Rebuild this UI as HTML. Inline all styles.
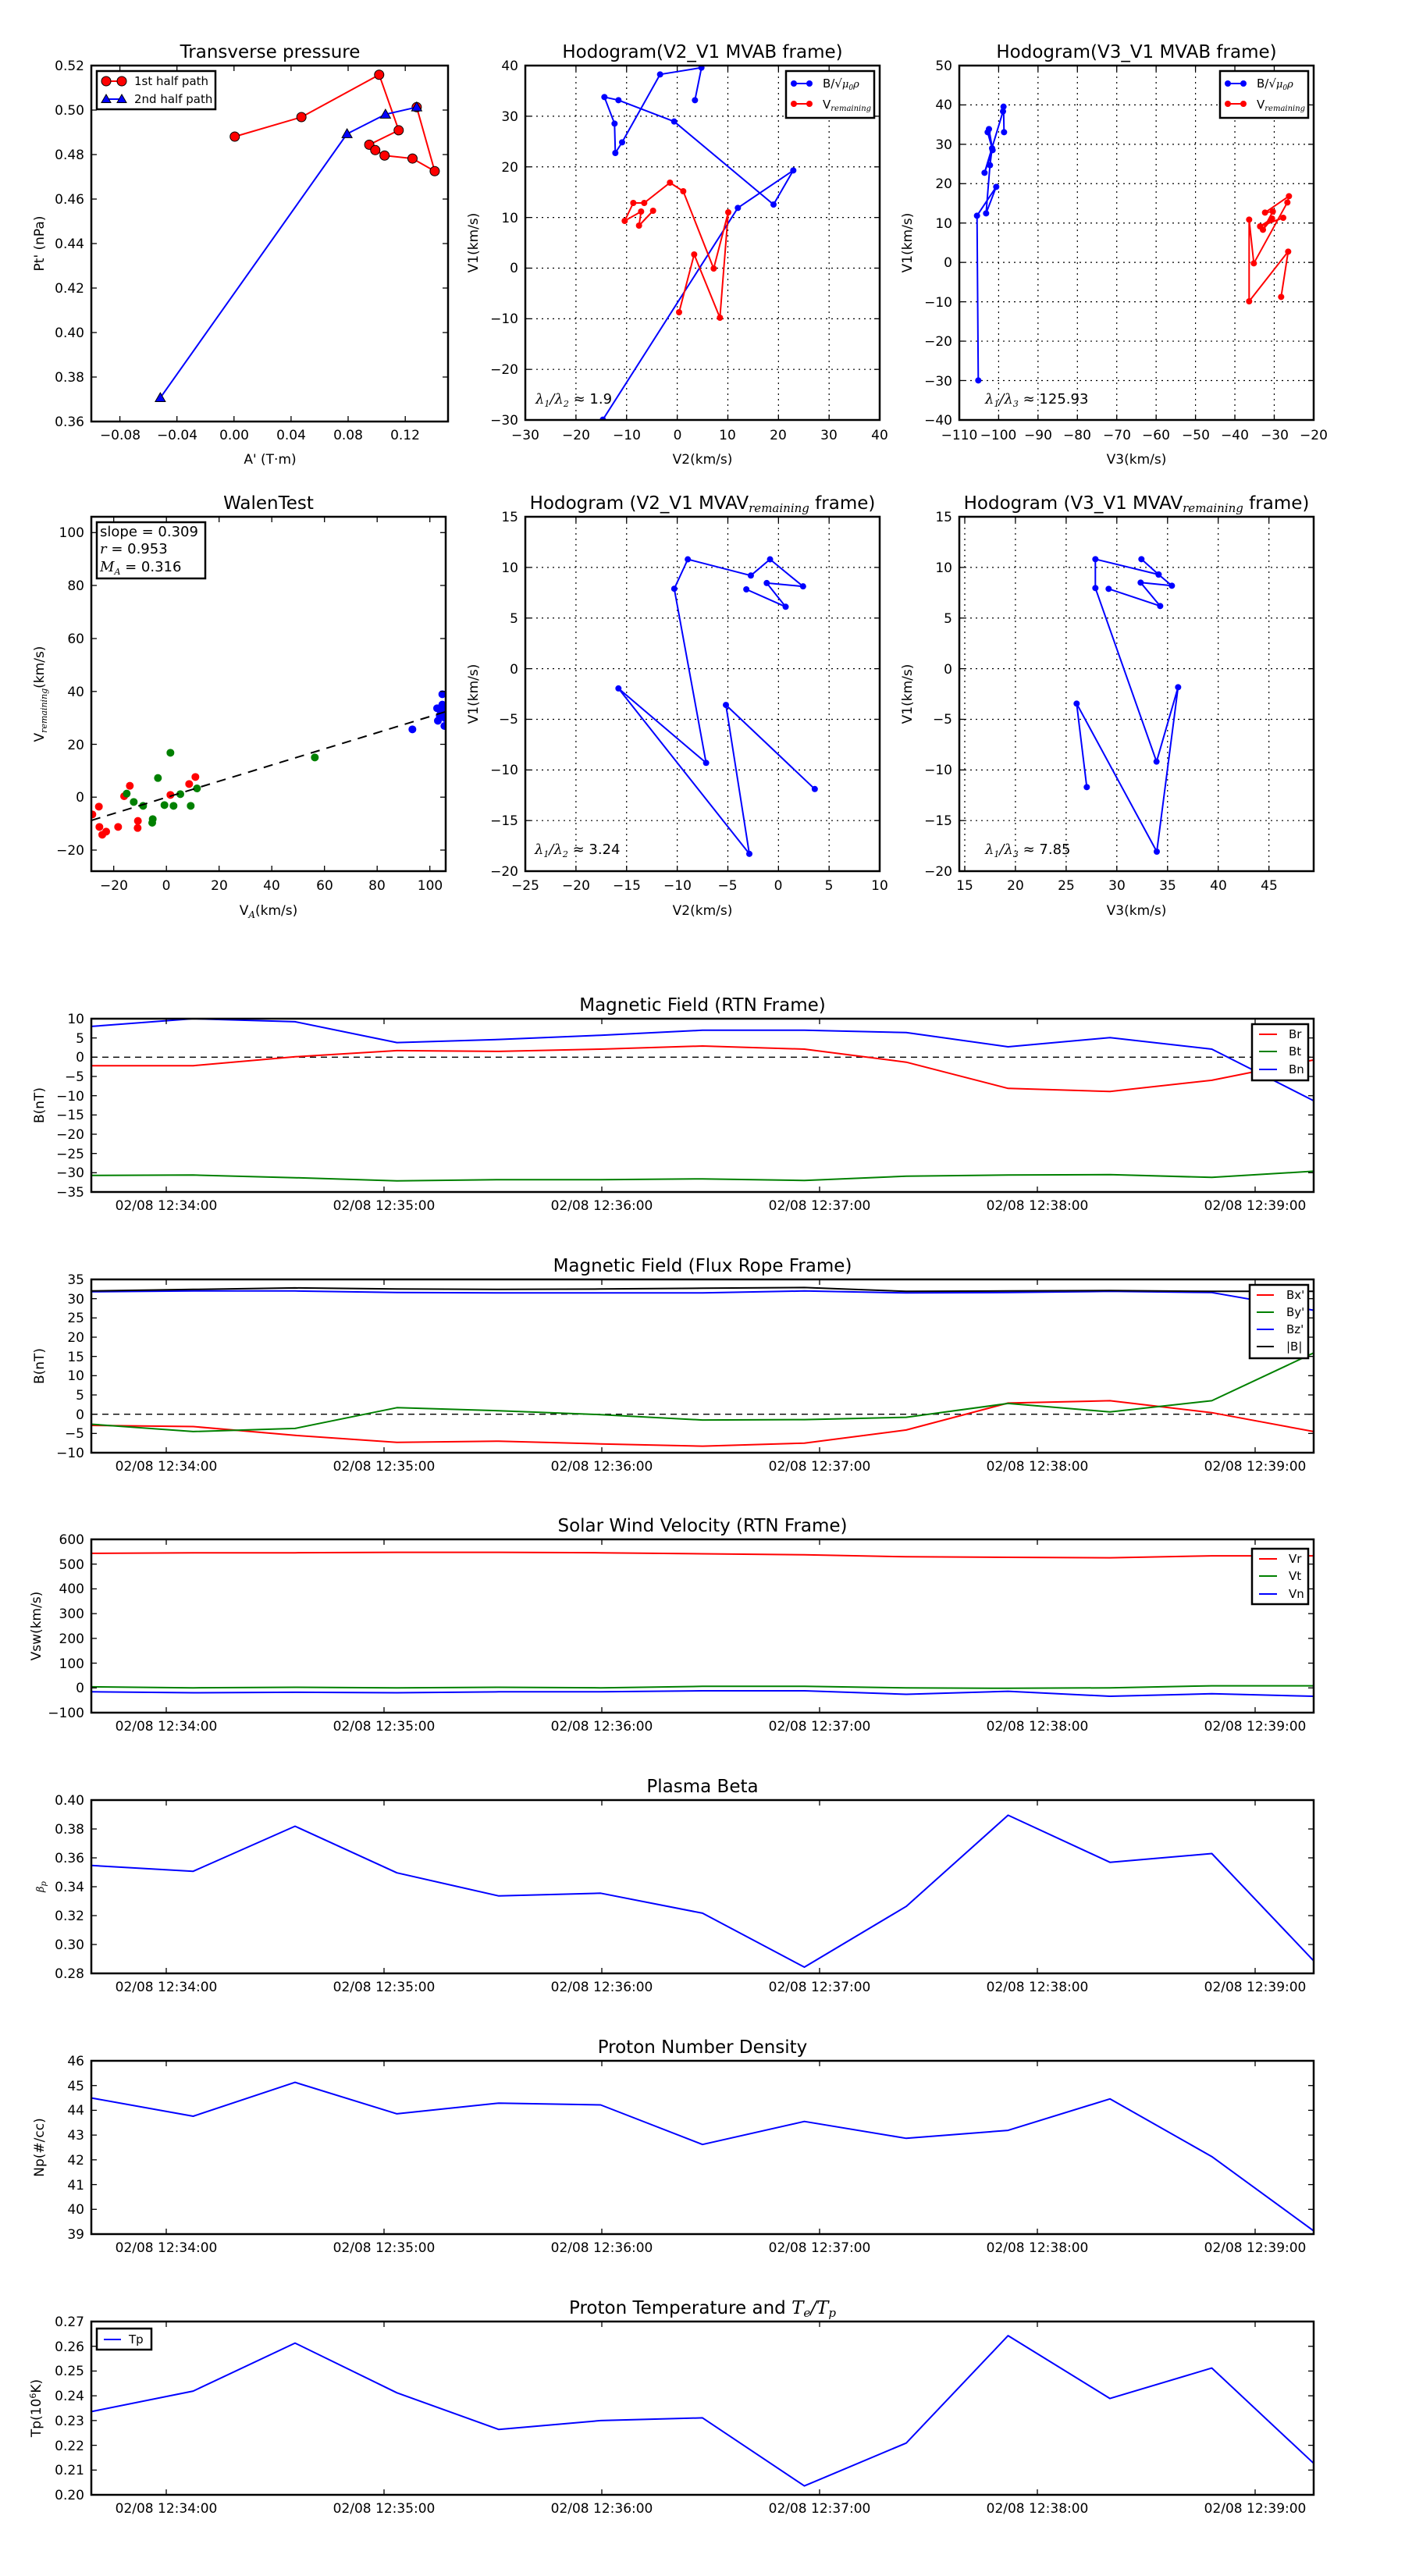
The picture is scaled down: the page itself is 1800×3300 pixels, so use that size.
<!DOCTYPE html>
<html><head><meta charset="utf-8">
<style>
html,body{margin:0;padding:0;background:#fff;}
svg{display:block;font-family:"DejaVu Sans","Liberation Sans",sans-serif;}
.t{font-size:17px;fill:#000}
.ti{font-size:23px;fill:#000}
.m{font-family:"DejaVu Serif","Liberation Serif",serif;font-style:italic}
</style></head>
<body>
<svg id="s" xmlns="http://www.w3.org/2000/svg" width="1800" height="3300" viewBox="0 0 1800 3300">
<rect width="1800" height="3300" fill="#fff"/>
<defs>
<clipPath id="c1"><rect x="117" y="84" width="457" height="456"/></clipPath>
<clipPath id="c2"><rect x="673" y="84" width="454" height="454"/></clipPath>
<clipPath id="c3"><rect x="1229" y="84" width="454" height="454"/></clipPath>
<clipPath id="c4"><rect x="117" y="662" width="454" height="454"/></clipPath>
<clipPath id="c5"><rect x="673" y="662" width="454" height="454"/></clipPath>
<clipPath id="c6"><rect x="1229" y="662" width="454" height="454"/></clipPath>
<clipPath id="ct"><rect x="117" y="0" width="1566" height="3300"/></clipPath>
</defs>
<g id="geo"></g>

<g class="ti" text-anchor="middle">
<text x="346" y="74">Transverse pressure</text>
<text x="900" y="74">Hodogram(V2_V1 MVAB frame)</text>
<text x="1456" y="74">Hodogram(V3_V1 MVAB frame)</text>
<text x="344" y="652">WalenTest</text>
<text x="900" y="652">Hodogram (V2_V1 MVAV<tspan class="m" font-size="15" dy="4">remaining</tspan><tspan dy="-4"> frame)</tspan></text>
<text x="1456" y="652">Hodogram (V3_V1 MVAV<tspan class="m" font-size="15" dy="4">remaining</tspan><tspan dy="-4"> frame)</tspan></text>
<text x="900" y="1295">Magnetic Field (RTN Frame)</text>
<text x="900" y="1629">Magnetic Field (Flux Rope Frame)</text>
<text x="900" y="1962">Solar Wind Velocity (RTN Frame)</text>
<text x="900" y="2296">Plasma Beta</text>
<text x="900" y="2630">Proton Number Density</text>
<text x="900" y="2964">Proton Temperature and <tspan class="m">T</tspan><tspan class="m" font-size="15" dy="4">e</tspan><tspan class="m" dy="-4">/T</tspan><tspan class="m" font-size="15" dy="4">p</tspan></text>
</g>

<g class="t" text-anchor="middle">
<text x="346" y="594">A' (T·m)</text>
<text x="900" y="594">V2(km/s)</text>
<text x="1456" y="594">V3(km/s)</text>
<text x="344" y="1172">V<tspan class="m" font-size="12" dy="4">A</tspan><tspan dy="-4">(km/s)</tspan></text>
<text x="900" y="1172">V2(km/s)</text>
<text x="1456" y="1172">V3(km/s)</text>
<text transform="translate(56,312) rotate(-90)">Pt' (nPa)</text>
<text transform="translate(612,311) rotate(-90)">V1(km/s)</text>
<text transform="translate(1168,311) rotate(-90)">V1(km/s)</text>
<text transform="translate(56,889) rotate(-90)">V<tspan class="m" font-size="11" dy="4">remaining</tspan><tspan dy="-4">(km/s)</tspan></text>
<text transform="translate(612,889) rotate(-90)">V1(km/s)</text>
<text transform="translate(1168,889) rotate(-90)">V1(km/s)</text>
<text transform="translate(56,1416) rotate(-90)">B(nT)</text>
<text transform="translate(56,1750) rotate(-90)">B(nT)</text>
<text transform="translate(52,2083) rotate(-90)">Vsw(km/s)</text>
<text transform="translate(56,2417) rotate(-90)" class="m" font-size="13">β<tspan font-size="10" dy="3">p</tspan></text>
<text transform="translate(56,2751) rotate(-90)">Np(#/cc)</text>
<text transform="translate(52,3085) rotate(-90)">Tp(10<tspan font-size="11" dy="-6">6</tspan><tspan dy="6">K)</tspan></text>
</g>

<g class="t" text-anchor="end">
<text x="108" y="90">0.52</text><text x="108" y="147">0.50</text><text x="108" y="204">0.48</text><text x="108" y="261">0.46</text><text x="108" y="318">0.44</text><text x="108" y="375">0.42</text><text x="108" y="432">0.40</text><text x="108" y="489">0.38</text><text x="108" y="546">0.36</text>
<text x="664" y="90">40</text><text x="664" y="155">30</text><text x="664" y="220">20</text><text x="664" y="285">10</text><text x="664" y="349">0</text><text x="664" y="414">−10</text><text x="664" y="479">−20</text><text x="664" y="544">−30</text>
<text x="1220" y="90">50</text><text x="1220" y="140">40</text><text x="1220" y="191">30</text><text x="1220" y="241">20</text><text x="1220" y="292">10</text><text x="1220" y="342">0</text><text x="1220" y="393">−10</text><text x="1220" y="443">−20</text><text x="1220" y="494">−30</text><text x="1220" y="544">−40</text>
<text x="108" y="688">100</text><text x="108" y="756">80</text><text x="108" y="824">60</text><text x="108" y="892">40</text><text x="108" y="960">20</text><text x="108" y="1027">0</text><text x="108" y="1095">−20</text>
<text x="664" y="668">15</text><text x="664" y="733">10</text><text x="664" y="798">5</text><text x="664" y="863">0</text><text x="664" y="927">−5</text><text x="664" y="992">−10</text><text x="664" y="1057">−15</text><text x="664" y="1122">−20</text>
<text x="1220" y="668">15</text><text x="1220" y="733">10</text><text x="1220" y="798">5</text><text x="1220" y="863">0</text><text x="1220" y="927">−5</text><text x="1220" y="992">−10</text><text x="1220" y="1057">−15</text><text x="1220" y="1122">−20</text>
</g>
<g class="t" text-anchor="middle">
<text x="154" y="563">−0.08</text><text x="227" y="563">−0.04</text><text x="300" y="563">0.00</text><text x="373" y="563">0.04</text><text x="446" y="563">0.08</text><text x="519" y="563">0.12</text>
<text x="673" y="563">−30</text><text x="738" y="563">−20</text><text x="803" y="563">−10</text><text x="868" y="563">0</text><text x="932" y="563">10</text><text x="997" y="563">20</text><text x="1062" y="563">30</text><text x="1127" y="563">40</text>
<text x="1229" y="563">−110</text><text x="1279" y="563">−100</text><text x="1330" y="563">−90</text><text x="1380" y="563">−80</text><text x="1431" y="563">−70</text><text x="1481" y="563">−60</text><text x="1532" y="563">−50</text><text x="1582" y="563">−40</text><text x="1633" y="563">−30</text><text x="1683" y="563">−20</text>
<text x="146" y="1140">−20</text><text x="213" y="1140">0</text><text x="281" y="1140">20</text><text x="348" y="1140">40</text><text x="416" y="1140">60</text><text x="483" y="1140">80</text><text x="551" y="1140">100</text>
<text x="673" y="1140">−25</text><text x="738" y="1140">−20</text><text x="803" y="1140">−15</text><text x="868" y="1140">−10</text><text x="932" y="1140">−5</text><text x="997" y="1140">0</text><text x="1062" y="1140">5</text><text x="1127" y="1140">10</text>
<text x="1236" y="1140">15</text><text x="1301" y="1140">20</text><text x="1366" y="1140">25</text><text x="1431" y="1140">30</text><text x="1496" y="1140">35</text><text x="1561" y="1140">40</text><text x="1626" y="1140">45</text>
</g>

<g class="t" text-anchor="end">
<text x="108" y="1311">10</text><text x="108" y="1336">5</text><text x="108" y="1360">0</text><text x="108" y="1385">−5</text><text x="108" y="1410">−10</text><text x="108" y="1434">−15</text><text x="108" y="1459">−20</text><text x="108" y="1484">−25</text><text x="108" y="1508">−30</text><text x="108" y="1533">−35</text>
<text x="108" y="1645">35</text><text x="108" y="1670">30</text><text x="108" y="1694">25</text><text x="108" y="1719">20</text><text x="108" y="1744">15</text><text x="108" y="1768">10</text><text x="108" y="1793">5</text><text x="108" y="1818">0</text><text x="108" y="1842">−5</text><text x="108" y="1867">−10</text>
<text x="108" y="1978">600</text><text x="108" y="2010">500</text><text x="108" y="2041">400</text><text x="108" y="2073">300</text><text x="108" y="2105">200</text><text x="108" y="2137">100</text><text x="108" y="2168">0</text><text x="108" y="2200">−100</text>
<text x="108" y="2312">0.40</text><text x="108" y="2349">0.38</text><text x="108" y="2386">0.36</text><text x="108" y="2423">0.34</text><text x="108" y="2460">0.32</text><text x="108" y="2497">0.30</text><text x="108" y="2534">0.28</text>
<text x="108" y="2646">46</text><text x="108" y="2678">45</text><text x="108" y="2709">44</text><text x="108" y="2741">43</text><text x="108" y="2773">42</text><text x="108" y="2805">41</text><text x="108" y="2836">40</text><text x="108" y="2868">39</text>
<text x="108" y="2980">0.27</text><text x="108" y="3012">0.26</text><text x="108" y="3043">0.25</text><text x="108" y="3075">0.24</text><text x="108" y="3107">0.23</text><text x="108" y="3139">0.22</text><text x="108" y="3170">0.21</text><text x="108" y="3202">0.20</text>
</g>
<g class="t" text-anchor="middle">
<text x="213" y="1550">02/08 12:34:00</text><text x="492" y="1550">02/08 12:35:00</text><text x="771" y="1550">02/08 12:36:00</text><text x="1050" y="1550">02/08 12:37:00</text><text x="1329" y="1550">02/08 12:38:00</text><text x="1608" y="1550">02/08 12:39:00</text>
<text x="213" y="1884">02/08 12:34:00</text><text x="492" y="1884">02/08 12:35:00</text><text x="771" y="1884">02/08 12:36:00</text><text x="1050" y="1884">02/08 12:37:00</text><text x="1329" y="1884">02/08 12:38:00</text><text x="1608" y="1884">02/08 12:39:00</text>
<text x="213" y="2217">02/08 12:34:00</text><text x="492" y="2217">02/08 12:35:00</text><text x="771" y="2217">02/08 12:36:00</text><text x="1050" y="2217">02/08 12:37:00</text><text x="1329" y="2217">02/08 12:38:00</text><text x="1608" y="2217">02/08 12:39:00</text>
<text x="213" y="2551">02/08 12:34:00</text><text x="492" y="2551">02/08 12:35:00</text><text x="771" y="2551">02/08 12:36:00</text><text x="1050" y="2551">02/08 12:37:00</text><text x="1329" y="2551">02/08 12:38:00</text><text x="1608" y="2551">02/08 12:39:00</text>
<text x="213" y="2885">02/08 12:34:00</text><text x="492" y="2885">02/08 12:35:00</text><text x="771" y="2885">02/08 12:36:00</text><text x="1050" y="2885">02/08 12:37:00</text><text x="1329" y="2885">02/08 12:38:00</text><text x="1608" y="2885">02/08 12:39:00</text>
<text x="213" y="3219">02/08 12:34:00</text><text x="492" y="3219">02/08 12:35:00</text><text x="771" y="3219">02/08 12:36:00</text><text x="1050" y="3219">02/08 12:37:00</text><text x="1329" y="3219">02/08 12:38:00</text><text x="1608" y="3219">02/08 12:39:00</text>
</g>

<g fill="#fff" stroke="#000" stroke-width="2.5">
<rect x="124" y="91" width="152" height="49"/>
<rect x="1007" y="91" width="113" height="60"/>
<rect x="1563" y="91" width="113" height="60"/>
<rect x="124" y="669" width="139" height="72"/>
<rect x="1604" y="1312" width="72" height="72"/>
<rect x="1601" y="1646" width="75" height="94"/>
<rect x="1604" y="1984" width="72" height="71"/>
<rect x="124" y="2983" width="70" height="27"/>
</g>
<g font-size="15" fill="#000">
<text x="172" y="109">1st half path</text>
<text x="172" y="132">2nd half path</text>
<text x="1054" y="112">B/√<tspan class="m" font-size="13">μ</tspan><tspan class="m" font-size="9" dy="3">0</tspan><tspan class="m" font-size="13" dy="-3">ρ</tspan></text>
<text x="1054" y="139">V<tspan class="m" font-size="10" dy="3">remaining</tspan></text>
<text x="1610" y="112">B/√<tspan class="m" font-size="13">μ</tspan><tspan class="m" font-size="9" dy="3">0</tspan><tspan class="m" font-size="13" dy="-3">ρ</tspan></text>
<text x="1610" y="139">V<tspan class="m" font-size="10" dy="3">remaining</tspan></text>
<text x="1651" y="1330">Br</text><text x="1651" y="1352">Bt</text><text x="1651" y="1375">Bn</text>
<text x="1648" y="1664">Bx'</text><text x="1648" y="1686">By'</text><text x="1648" y="1708">Bz'</text><text x="1648" y="1730">|B|</text>
<text x="1651" y="2002">Vr</text><text x="1651" y="2024">Vt</text><text x="1651" y="2047">Vn</text>
<text x="165" y="3002">Tp</text>
</g>
<g font-size="18" fill="#000">
<text x="128" y="687">slope = 0.309</text>
<text x="128" y="709"><tspan class="m">r</tspan> = 0.953</text>
<text x="128" y="732"><tspan class="m">M</tspan><tspan class="m" font-size="11" dy="4">A</tspan><tspan dy="-4"> = 0.316</tspan></text>
<text x="686" y="517"><tspan class="m">λ</tspan><tspan class="m" font-size="11" dy="4">1</tspan><tspan class="m" dy="-4">/λ</tspan><tspan class="m" font-size="11" dy="4">2</tspan><tspan dy="-4"> ≈ 1.9</tspan></text>
<text x="1262" y="517"><tspan class="m">λ</tspan><tspan class="m" font-size="11" dy="4">1</tspan><tspan class="m" dy="-4">/λ</tspan><tspan class="m" font-size="11" dy="4">3</tspan><tspan dy="-4"> ≈ 125.93</tspan></text>
<text x="685" y="1094"><tspan class="m">λ</tspan><tspan class="m" font-size="11" dy="4">1</tspan><tspan class="m" dy="-4">/λ</tspan><tspan class="m" font-size="11" dy="4">2</tspan><tspan dy="-4"> ≈ 3.24</tspan></text>
<text x="1262" y="1094"><tspan class="m">λ</tspan><tspan class="m" font-size="11" dy="4">1</tspan><tspan class="m" dy="-4">/λ</tspan><tspan class="m" font-size="11" dy="4">3</tspan><tspan dy="-4"> ≈ 7.85</tspan></text>
</g>
<g id="top"></g>
</svg>
<script>
(function(){
var NS='http://www.w3.org/2000/svg';
var geo=document.getElementById('geo'), top=document.getElementById('top');
function el(t,a,p){var e=document.createElementNS(NS,t);for(var k in a)e.setAttribute(k,a[k]);(p||geo).appendChild(e);return e;}
function path(pts,c,w,clip,dash,p){var d='';pts.forEach(function(q,i){d+=(i?'L':'M')+q[0].toFixed(1)+' '+q[1].toFixed(1);});
 var a={d:d,fill:'none',stroke:c,'stroke-width':w,'stroke-linejoin':'round'};if(clip)a['clip-path']='url(#'+clip+')';if(dash)a['stroke-dasharray']=dash;return el('path',a,p);}
function dots(pts,c,r,clip,p){var g=el('g',clip?{'clip-path':'url(#'+clip+')'}:{},p);pts.forEach(function(q){el('circle',{cx:q[0],cy:q[1],r:r,fill:c},g);});}
function tr(pts,ox,oy,s){return pts.map(function(q){return [ox+q[0]/s,oy+q[1]/s];});}
function frame(x,y,w,h,xt,yt,grid){
 if(grid){xt.forEach(function(v){el('line',{x1:v,y1:y,x2:v,y2:y+h,stroke:'#000','stroke-width':1.2,'stroke-dasharray':'2,5'});});
  yt.forEach(function(v){el('line',{x1:x,y1:v,x2:x+w,y2:v,stroke:'#000','stroke-width':1.2,'stroke-dasharray':'2,5'});});}
 var L=7;
 xt.forEach(function(v){el('line',{x1:v,y1:y,x2:v,y2:y+L,stroke:'#000','stroke-width':1.3},top);el('line',{x1:v,y1:y+h,x2:v,y2:y+h-L,stroke:'#000','stroke-width':1.3},top);});
 yt.forEach(function(v){el('line',{x1:x,y1:v,x2:x+L,y2:v,stroke:'#000','stroke-width':1.3},top);el('line',{x1:x+w,y1:v,x2:x+w-L,y2:v,stroke:'#000','stroke-width':1.3},top);});
 el('rect',{x:x,y:y,width:w,height:h,fill:'none',stroke:'#000','stroke-width':2.5},top);
}
function rng(a,n,s){var r=[];for(var i=0;i<n;i++)r.push(a+i*s);return r;}

frame(117,84,457,456,[153.6,226.7,299.8,372.9,446,519.2],rng(84,9,57),false);
var red=tr([[782,455],[1004,390],[1263,249],[1328,434],[1230,482],[1250,500],[1281,518],[1374,528],[1448,570],[1388,357]],0,0,2.6);
var blu=tr([[1388,357],[1284,381],[1156,446],[534,1325]],0,0,2.6);
path(red,'#f00',2,'c1');
red.forEach(function(q){el('circle',{cx:q[0],cy:q[1],r:6,fill:'#f00',stroke:'#000','stroke-width':1});});
path(blu,'#00f',2,'c1');
function tri(x,y,s,p){el('path',{d:'M'+x+' '+(y-s)+'L'+(x+s)+' '+(y+s*0.75)+'L'+(x-s)+' '+(y+s*0.75)+'Z',fill:'#00f',stroke:'#000','stroke-width':1},p);}
blu.forEach(function(q){tri(q[0],q[1],6.5);});
path([[136,104],[156,104]],'#f00',2,null,null,top);
el('circle',{cx:136,cy:104,r:6,fill:'#f00',stroke:'#000','stroke-width':1},top);el('circle',{cx:156,cy:104,r:6,fill:'#f00',stroke:'#000','stroke-width':1},top);
path([[136,127],[156,127]],'#00f',2,null,null,top);tri(136,127,6,top);tri(156,127,6,top);

frame(673,84,454,454,rng(737.9,6,64.86),rng(148.9,6,64.86),true);
var h1b=tr([[691,205],[716,80],[557,106],[411,367],[385,408],[382,295],[343,193],[397,205],[611,287],[993,606],[1069,475],[856,619],[337,1433],[300,1490]],660,60,3);
var h1r=tr([[530,630],[476,687],[484,633],[421,669],[454,600],[496,600],[595,522],[646,555],[763,852],[819,636],[787,1041],[688,798],[630,1020]],660,60,3);
path(h1b,'#00f',2,'c2');dots(h1b.slice(0,13),'#00f',4,'c2');
path(h1r,'#f00',2,'c2');dots(h1r,'#f00',4,'c2');
frame(1229,84,454,454,rng(1279.4,8,50.44),rng(134.4,8,50.44),true);
var h2b=tr([[160,1282],[155,649],[229,538],[190,640],[205,455],[213,390],[196,328],[201,316],[215,397],[184,484],[255,248],[257,230],[259,328]],1200,60,3);
var h2r=tr([[1324,961],[1351,787],[1201,978],[1201,664],[1219,832],[1348,598],[1354,574],[1262,637],[1292,633],[1254,703],[1289,660],[1243,690],[1332,657]],1200,60,3);
path(h2b,'#00f',2,'c3');dots(h2b,'#00f',4,'c3');
path(h2r,'#f00',2,'c3');dots(h2r,'#f00',4,'c3');
[[1017,1037],[1573,1593]].forEach(function(a){
 path([[a[0],107],[a[1],107]],'#00f',2,null,null,top);dots([[a[0],107],[a[1],107]],'#00f',4,null,top);
 path([[a[0],133],[a[1],133]],'#f00',2,null,null,top);dots([[a[0],133],[a[1],133]],'#f00',4,null,top);});

frame(117,662,454,454,[145.7,213.2,280.7,348.2,415.7,483.2,550.7],[682.3,750,818,885.8,953.5,1021.2,1089],false);
var wr=tr([[175,1270],[200,1240],[202,1318],[213,1348],[228,1336],[274,1318],[297,1200],[319,1160],[350,1295],[349,1322],[475,1195],[547,1153],[571,1126]],60,620,3);
var wg=tr([[307,1190],[334,1222],[370,1237],[407,1288],[405,1302],[427,1130],[452,1234],[475,1033],[487,1237],[513,1192],[553,1237],[577,1170],[1030,1051]],60,620,3);
var wb=tr([[1405,943],[1520,808],[1500,862],[1520,848],[1503,910],[1515,880],[1528,930],[1510,890],[1525,870],[1530,900]],60,620,3);
dots(wr,'#f00',5,'c4');dots(wg,'#008000',5,'c4');dots(wb,'#00f',5,'c4');
path([[117,1051],[571,911.7]],'#000',2,'c4','12,9');

frame(673,662,454,454,rng(737.9,6,64.86),rng(726.9,6,64.86),true);
var h3=tr([[926,403],[1057,461],[994,382],[1115,393],[1005,303],[941,357],[731,303],[686,401],[792,981],[500,733],[936,1284],[858,788],[1154,1068]],600,600,2.6);
path(h3,'#00f',2,'c5');dots(h3,'#00f',4,'c5');
frame(1229,662,454,454,[1236,1300.9,1365.9,1430.8,1495.8,1560.7,1625.7],rng(726.9,6,64.86),true);
var h4=tr([[661,403],[859,469],[784,379],[904,391],[853,348],[787,289],[853,348],[610,289],[610,400],[845,1067],[928,781],[846,1413],[538,844],[577,1165]],1200,620,3);
path(h4,'#00f',2,'c6');dots(h4,'#00f',4,'c6');

var XT=[213,492,771,1050,1329,1608];
function X(i){return 117+i*130.5;}
function ser(vals,top,vmax,vmin,c){var h=222;var pts=vals.map(function(v,i){return [X(i),top+(vmax-v)/(vmax-vmin)*h];});path(pts,c,2,'ct');}
function ts(top,vmax,vmin,step){var yt=[];for(var v=vmax;v>=vmin-1e-9;v-=step)yt.push(top+(vmax-v)/(vmax-vmin)*222);frame(117,top,1566,222,XT,yt,false);}
ts(1305,10,-35,5);
path([[117,1354.3],[1683,1354.3]],'#000',1.3,null,'8,6');
ser([-2.2,-2.2,0.1,1.7,1.5,2.1,2.9,2.1,-1.3,-8.1,-8.9,-6.0,-0.7],1305,10,-35,'#f00');
ser([-30.7,-30.6,-31.3,-32.1,-31.8,-31.8,-31.6,-32.0,-30.9,-30.6,-30.5,-31.2,-29.6],1305,10,-35,'#008000');
ser([8,10,9.2,3.8,4.6,5.7,7,7,6.4,2.7,5.1,2.1,-11.3],1305,10,-35,'#00f');
ts(1639,35,-10,5);
path([[117,1811.7],[1683,1811.7]],'#000',1.3,null,'8,6');
ser([-2.9,-3.2,-5.5,-7.3,-7.0,-7.7,-8.3,-7.5,-4.1,2.9,3.5,0.4,-4.5],1639,35,-10,'#f00');
ser([-2.6,-4.5,-3.7,1.7,0.9,-0.1,-1.5,-1.4,-0.8,2.8,0.6,3.5,15.9],1639,35,-10,'#008000');
ser([31.8,32.0,32.0,31.6,31.5,31.5,31.5,32.0,31.5,31.6,31.9,31.6,27.0],1639,35,-10,'#00f');
ser([32.0,32.4,32.8,32.5,32.4,32.5,32.7,32.9,31.9,32.0,32.1,31.9,31.9],1639,35,-10,'#000');
ts(1972,600,-100,100);
ser([543.7,545.7,545.7,547.7,547.7,545.7,541.7,537.6,529.6,527.6,525.6,533.6,533.6],1972,600,-100,'#f00');
ser([4.4,0.4,2.4,0.4,2.4,0.4,6.4,6.4,0.4,-1.6,0.4,8.5,8.5],1972,600,-100,'#008000');
ser([-15.7,-19.7,-17.7,-19.7,-15.7,-15.7,-11.7,-11.7,-25.8,-13.7,-33.8,-23.8,-33.8],1972,600,-100,'#00f');
ts(2306,0.40,0.28,0.02);
ser([.3547,.3507,.3819,.3496,.3336,.3355,.3217,.2843,.3264,.3895,.3569,.3630,.2887],2306,0.40,0.28,'#00f');
ts(2640,46,39,1);
ser([44.50,43.76,45.13,43.86,44.29,44.22,42.62,43.55,42.87,43.19,44.46,42.13,39.13],2640,46,39,'#00f');
ts(2974,0.27,0.20,0.01);
ser([.2336,.2419,.2613,.2412,.2264,.2300,.2311,.2036,.2209,.2643,.2389,.2512,.2127],2974,0.27,0.20,'#00f');

function leg(x1,x2,ys,cols){ys.forEach(function(y,i){path([[x1,y],[x2,y]],cols[i],2,null,null,top);});}
leg(1613,1636,[1325,1347,1370],['#f00','#008000','#00f']);
leg(1610,1632,[1659,1681,1703,1725],['#f00','#008000','#00f','#000']);
leg(1613,1636,[1997,2019,2042],['#f00','#008000','#00f']);
leg(133,155,[2997],['#00f']);
var s=document.getElementById('s');
var nodes=[].slice.call(s.children).filter(function(n){return n.tagName==='g'&&n.id!=='geo'&&n.id!=='top';});
nodes.forEach(function(n){s.appendChild(n);});
s.appendChild(top);
})();
</script>
</body></html>
